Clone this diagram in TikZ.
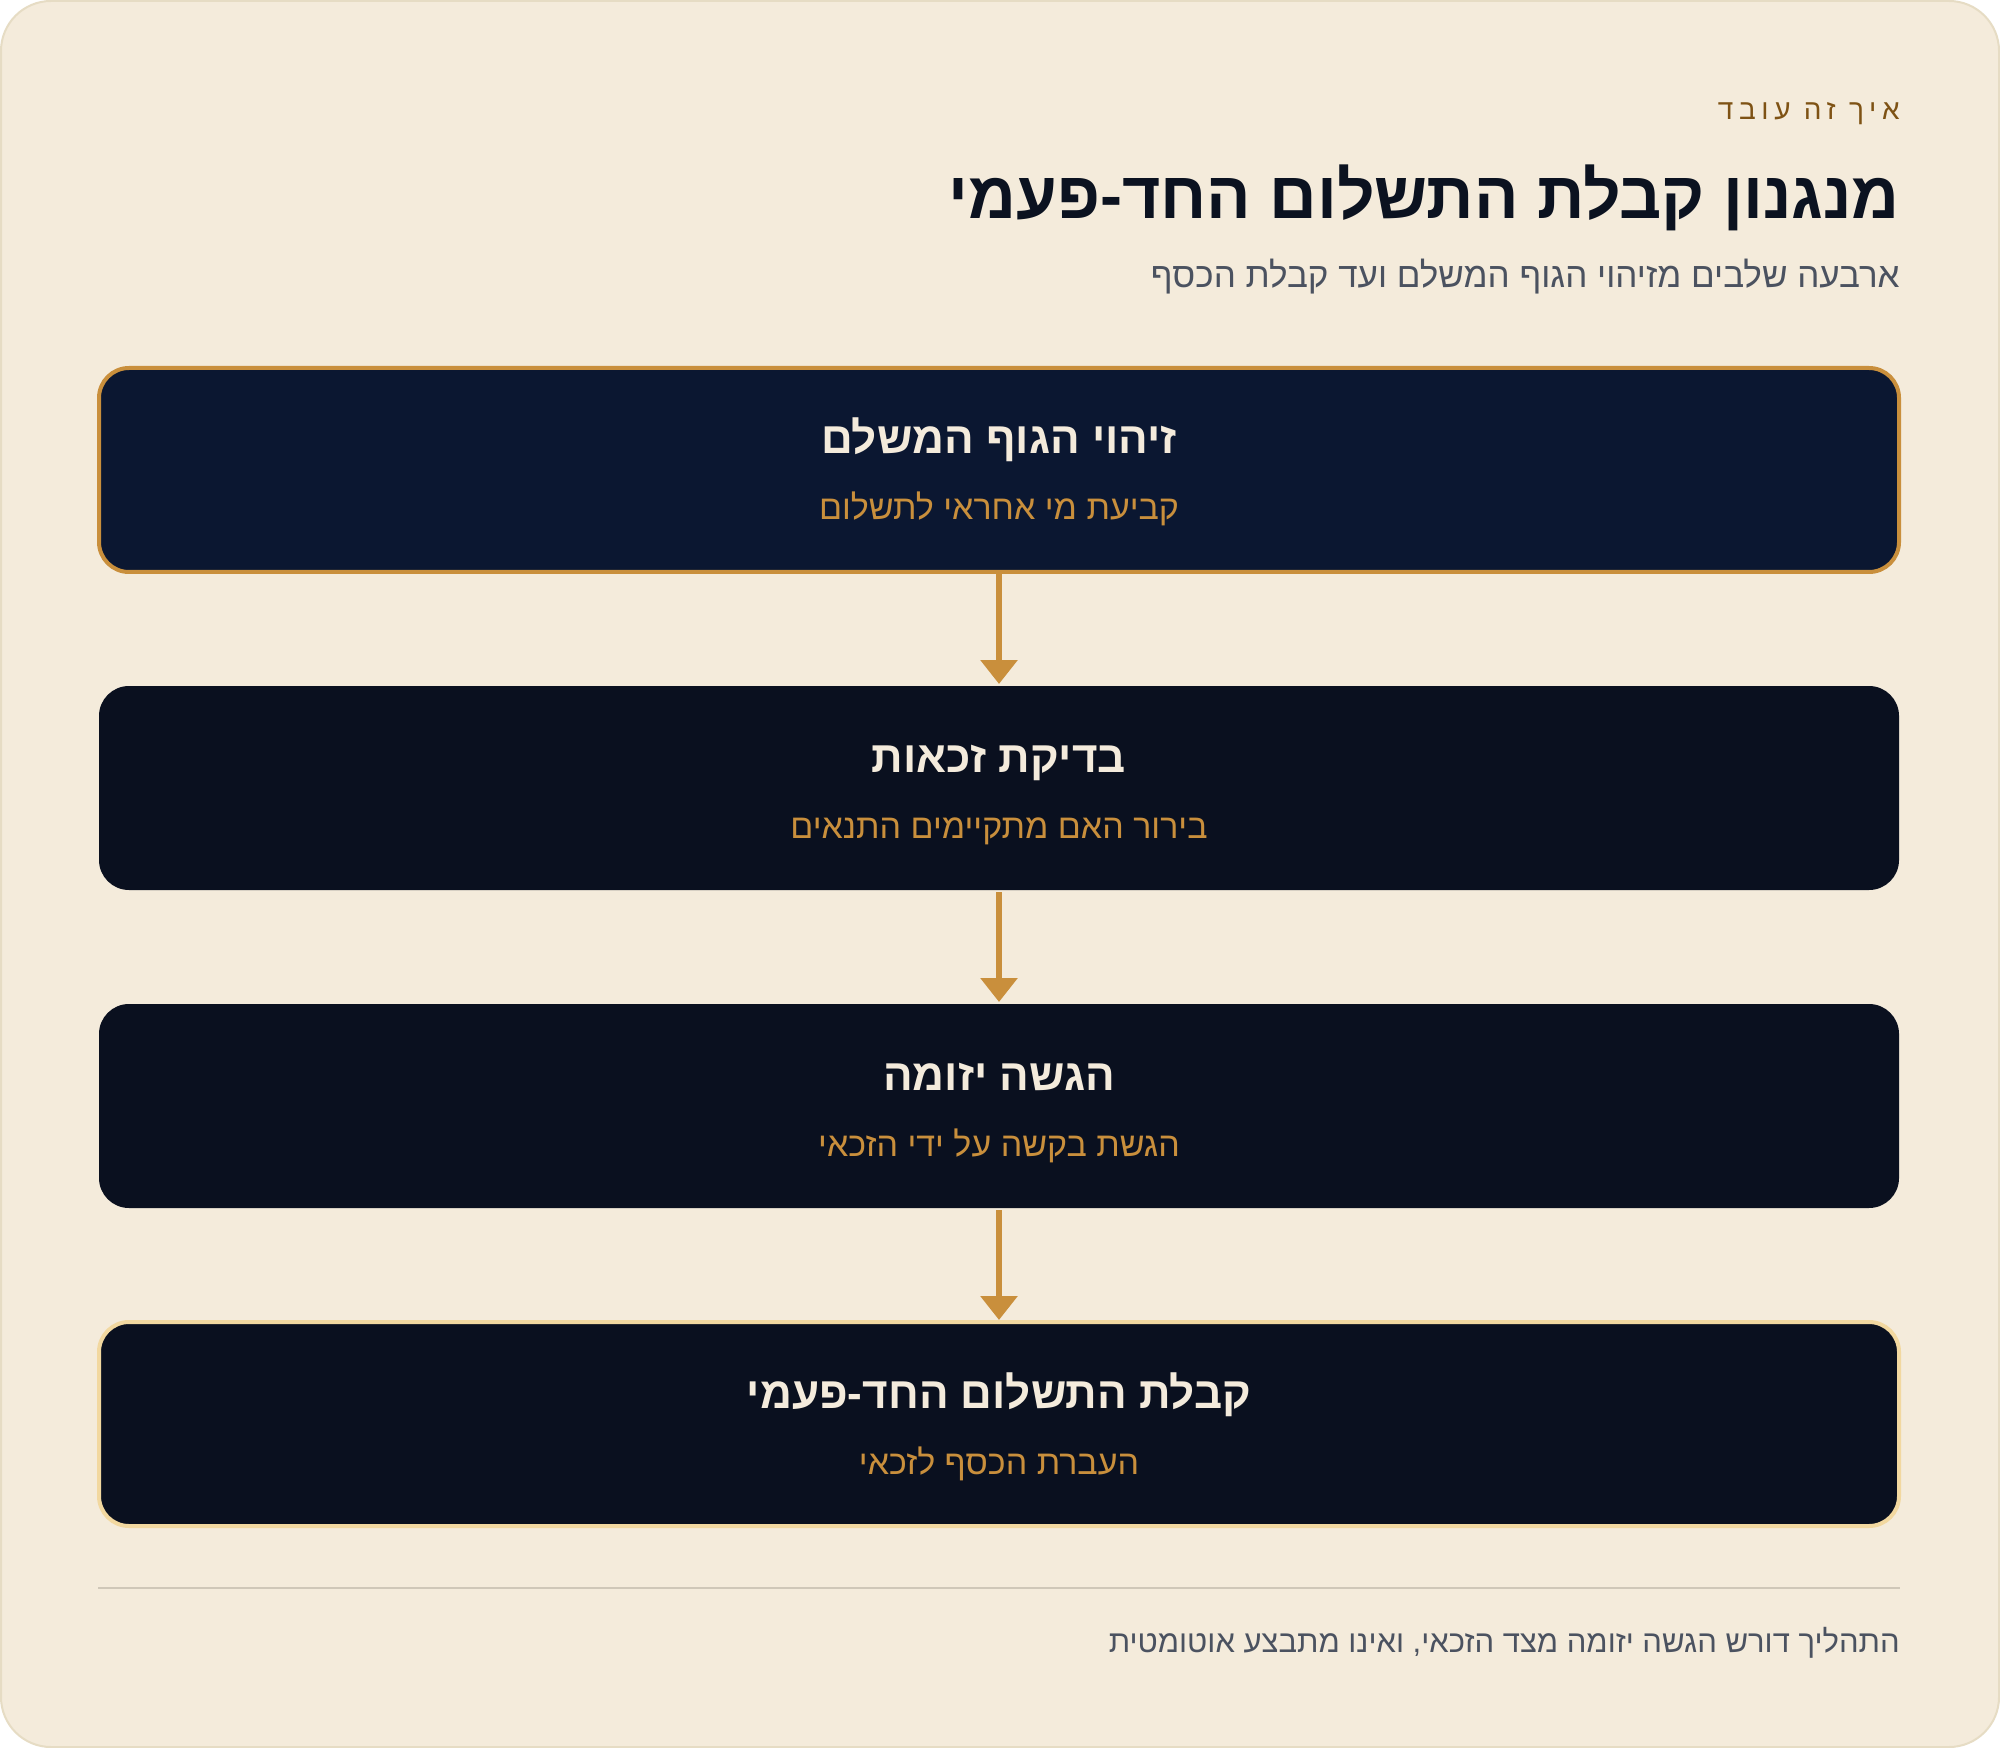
\documentclass[tikz,border=0pt]{standalone}
\usepackage{fontspec}
\usetikzlibrary{arrows.meta}
\TeXXeTstate=1
\newfontfamily\hebfont[Script=Hebrew]{Liberation Sans}
\newfontfamily\hebspaced[Script=Hebrew,LetterSpace=20]{Liberation Sans}
\newcommand{\hebline}[1]{\beginR #1\endR}

\definecolor{paper}{HTML}{F4EBDB}
\definecolor{paperline}{HTML}{E6DCC4}
\definecolor{ink}{HTML}{0B1220}
\definecolor{slate}{HTML}{4B5260}
\definecolor{bronze}{HTML}{7E5214}
\definecolor{gold}{HTML}{C98F3C}
\definecolor{paleGold}{HTML}{F2D8A0}
\definecolor{cream}{HTML}{F4EBDC}
\definecolor{navy}{HTML}{0B1731}
\definecolor{night}{HTML}{0A101F}
\definecolor{rule}{HTML}{CFC7B8}

\tikzset{
  stepbox/.style={rectangle, rounded corners=15pt, minimum width=900pt,
    minimum height=102pt, line width=2pt},
  steptitle/.style={anchor=base, text=cream,
    font=\hebfont\bfseries\fontsize{22pt}{26pt}\selectfont},
  stepnote/.style={anchor=base, text=gold,
    font=\hebfont\fontsize{17pt}{20pt}\selectfont},
  headtext/.style={anchor=base east, inner sep=0pt},
  flow/.style={-{Triangle[width=18pt,length=12pt]}, line width=3pt, draw=gold},
}

\begin{document}
\begin{tikzpicture}[x=0.5pt,y=-0.5pt]

\def \gap {318} % distance between the box centres, in px

% page
\fill[white] (0,0) rectangle (2000,1748);
\useasboundingbox (0,0) rectangle (2000,1748);
\draw[paperline, fill=paper, line width=1pt, rounded corners=25pt]
  (1,1) rectangle (1999,1747);

% header
\node[headtext, text=bronze, font=\hebspaced\fontsize{14pt}{17pt}\selectfont]
  (eyebrow) at (1900,120) {\hebline{איך זה עובד}};
\node[headtext, text=ink, font=\hebfont\bfseries\fontsize{33pt}{38pt}\selectfont]
  (title) at (1900,219) {\hebline{מנגנון קבלת התשלום החד-פעמי}};
\node[headtext, text=slate, font=\hebfont\fontsize{17.5pt}{21pt}\selectfont]
  (subtitle) at (1900,288) {\hebline{ארבעה שלבים מזיהוי הגוף המשלם ועד קבלת הכסף}};

% steps
\foreach \s/\fillc/\edgec/\ttl/\sub in {
  1/navy/gold/{זיהוי הגוף המשלם}/{קביעת מי אחראי לתשלום},
  2/night/none/{בדיקת זכאות}/{בירור האם מתקיימים התנאים},
  3/night/none/{הגשה יזומה}/{הגשת בקשה על ידי הזכאי},
  4/night/paleGold/{קבלת התשלום החד-פעמי}/{העברת הכסף לזכאי}}
{
  \pgfmathsetmacro\yc{470+\gap*(\s-1)}
  \node[stepbox, fill=\fillc, draw=\edgec] (s\s) at (999,\yc) {};
  \node[steptitle] (s\s t) at (999,\yc-16) {\hebline{\ttl}};
  \node[stepnote] (s\s n) at (999,\yc+50) {\hebline{\sub}};
}

\foreach \a/\b in {1/2,2/3,3/4}
  \draw[flow] (s\a) -- (s\b);

% footer
\coordinate (ruleL) at (98,1588);
\coordinate (ruleR) at (1900,1588);
\draw[rule, line width=1pt] (ruleL) -- (ruleR);
\node[headtext, text=slate, font=\hebfont\fontsize{15.5pt}{19pt}\selectfont]
  (footnote) at (1900,1652) {\hebline{התהליך דורש הגשה יזומה מצד הזכאי, ואינו מתבצע אוטומטית}};

\end{tikzpicture}
\end{document}
